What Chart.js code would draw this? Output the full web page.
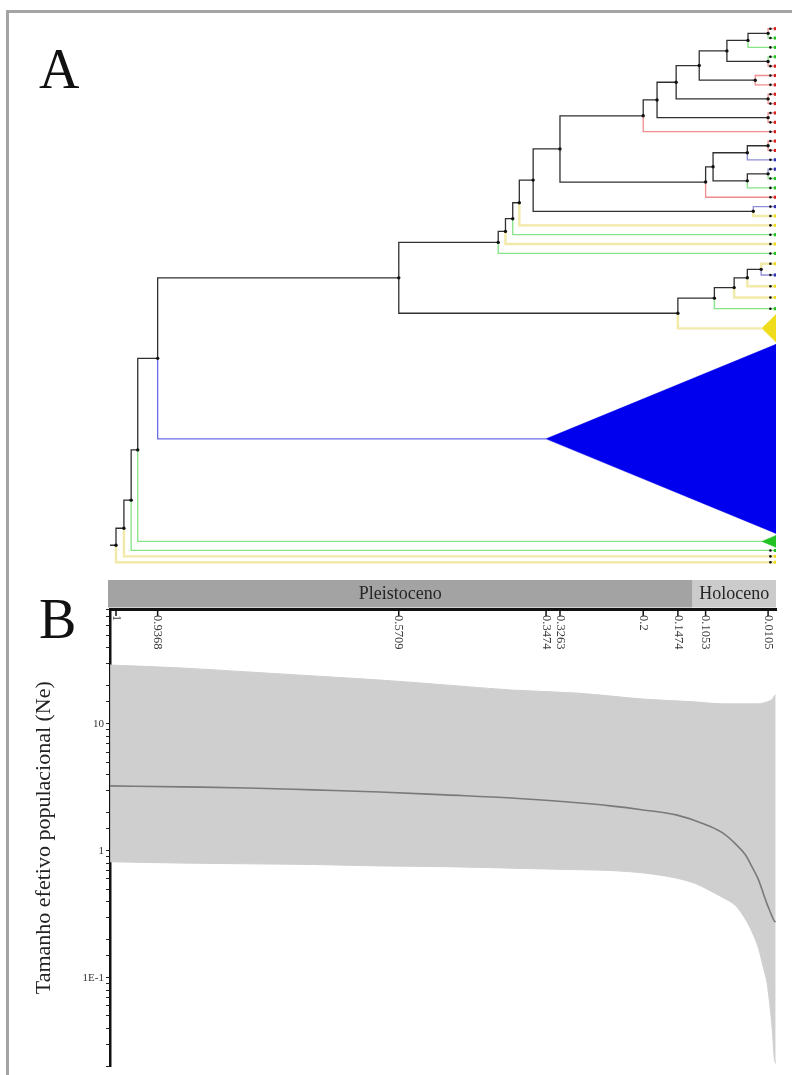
<!DOCTYPE html>
<html><head><meta charset="utf-8">
<script src="https://cdn.jsdelivr.net/npm/chart.js@4.4.1/dist/chart.umd.min.js"></script>
<style>
html,body{margin:0;padding:0;background:#fff;}
#page{position:relative;width:792px;height:1075px;overflow:hidden;background:#fff;}
#frame{position:absolute;left:6px;top:10px;right:-4px;bottom:-4px;border-top:3px solid #a4a4a4;border-left:3px solid #a4a4a4;}
.panel{position:absolute;font-family:'Liberation Serif','DejaVu Serif',serif;font-size:56px;line-height:1;color:#111;}
#cA{position:absolute;left:0;top:20px;width:792px;height:552px;}
#cB{position:absolute;left:8px;top:575px;width:784px;height:500px;}
</style></head><body>
<div id="page">
<div id="frame"></div>
<canvas id="cA" width="792" height="552"></canvas>
<canvas id="cB" width="784" height="500"></canvas>
<div class="panel" style="left:39px;top:41px">A</div>
<div class="panel" style="left:39px;top:591px">B</div>
</div>
<script>
// ---------------- Panel A : tree data ----------------
// node heights (time units) written after each closing bracket; tips are t0..t35 (top to bottom)
const subcladeRed    = "((((((t0,t1)0.0105,t2)0.041,(t3,t4)0.0105)0.073,(t5,t6)0.03)0.115,(t7,t8)0.0105)0.15,(t9,t10)0.0105)0.179";
const subcladeMixed  = "(((t12,t13)0.0105,t14)0.042,((t15,t16)0.0105,t17)0.042)0.094";
const subcladeYellow = "((((t25,t26)0.021,t27)0.042,t28)0.062,t29)0.092";
const treeNewick = "(((((((((((((" + subcladeRed + ",t11)0.2,(" + subcladeMixed + ",t18)0.1053)0.3263,(t19,t20)0.033)0.367,t21)0.388,t22)0.398,t23)0.409,t24)0.42,(" + subcladeYellow + ",t30)0.1474)0.5709,t31)0.9368,t32)0.967,t33)0.977,t34)0.988,t35)1.0";
const rootStubFrom = 1.0091;

// tip group (r red, g green, y yellow, p purple, b blue)
const tipGroup = ['r','g','g','g','r','r','r','r','r','r','r','r','r','r','p','p','g','g','r','p',
                  'y','y','g','y','g','y','p','y','y','g','y','b','g','g','y','y'];
// vertical room given to each tip (collapsed clades get more)
const tipSpan  = [1,1,1,1,1,1,1,1,1,1,1,1,1,1,1,1,1,1,1,1,1,1,1,1,1,
                  1.2,1.2,1.2,1.2,1.2, 3, 20.6, 1.3, 0.63,0.63,0.63];
// crown age of collapsed clades (0 = single tip)
const tipApex  = [0,0,0,0,0,0,0,0,0,0,0,0,0,0,0,0,0,0,0,0,0,0,0,0,0,
                  0,0,0,0,0, 0.02, 0.3474, 0.02, 0,0,0];

const branchColor = {r:'#ef8c8c', g:'#86e386', y:'#f2eaa8', p:'#8e8ed8', b:'#6c6ce6'};
const markColor   = {r:'#d61f1f', g:'#23c223', y:'#efdc1c', p:'#3232b0', b:'#0000ee'};
const INTERNAL = '#303030';

// ---------------- Panel B : skyline data ----------------
const skyTime   = [1.009, 0.9, 0.8, 0.7, 0.6, 0.5, 0.4, 0.3, 0.25, 0.2, 0.15, 0.12, 0.1, 0.08, 0.06, 0.045, 0.035, 0.025, 0.018, 0.012, 0.008, 0.004, 0.001, -0.001];
const skyUpper  = [29.1, 27.6, 25.7, 23.9, 22.2, 20.3, 18.5, 17.5, 16.6, 15.7, 15.2, 14.9, 14.6, 14.4, 14.4, 14.4, 14.4, 14.4, 14.6, 14.9, 15.2, 15.7, 16.6, 17.0];
const skyMedian = [3.25, 3.19, 3.13, 3.02, 2.91, 2.76, 2.61, 2.39, 2.26, 2.10, 1.92, 1.72, 1.57, 1.39, 1.135, 0.93, 0.75, 0.59, 0.466, 0.38, 0.337, 0.30, 0.28, 0.275];
const skyLower  = [0.82, 0.80, 0.79, 0.78, 0.76, 0.75, 0.73, 0.71, 0.70, 0.67, 0.61, 0.55, 0.49, 0.43, 0.37, 0.29, 0.23, 0.17, 0.122, 0.09, 0.062, 0.038, 0.023, 0.021];

const xTickValues = [1, 0.9368, 0.5709, 0.3474, 0.3263, 0.2, 0.1474, 0.1053, 0.0105];
const xTickLabels = ['1', '0.9368', '0.5709', '0.3474', '0.3263', '0.2', '0.1474', '0.1053', '0.0105'];
const yTickValues = [0.1, 1, 10];
const yTickLabels = ['1E-1', '1', '10'];
const epochNames = ['Pleistoceno', 'Holoceno'];
const epochFrom  = [1.0091, 0.125];
const epochTo    = [0.125, -0.0015];
const epochColor = ['#a3a3a3', '#cbcbcb'];

const X_MIN = -0.0015, X_MAX = 1.0091;
const SERIF = "'Liberation Serif','DejaVu Serif',serif";
Chart.defaults.font.family = SERIF;

// ---------- build tree geometry ----------
function parseNewick(s){
  let i = 0;
  function node(){
    if (s[i] === '('){
      i++;
      const kids = [node()];
      while (s[i] === ','){ i++; kids.push(node()); }
      i++;
      const j = i;
      while (i < s.length && /[0-9.]/.test(s[i])) i++;
      return {kids, h: parseFloat(s.slice(j, i))};
    }
    const j = i; i++;
    while (i < s.length && /[0-9]/.test(s[i])) i++;
    return {tip: parseInt(s.slice(j + 1, i), 10)};
  }
  return node();
}
const tree = parseNewick(treeNewick);
let acc = 0;
const tipY = tipSpan.map(s => { const c = acc + s / 2; acc += s; return c; });
const yTotal = acc;

function lay(n){
  if (n.tip !== undefined){
    n.y = tipY[n.tip]; n.h = tipApex[n.tip]; n.col = branchColor[tipGroup[n.tip]]; return;
  }
  n.kids.forEach(lay);
  n.y = (n.kids[0].y + n.kids[n.kids.length - 1].y) / 2;
  n.col = INTERNAL;
}
lay(tree);
const segByColor = {};
const nodePts = [];
function addSeg(col, pts){
  if (!segByColor[col]) segByColor[col] = [];
  segByColor[col].push(...pts, {x: pts[pts.length - 1].x, y: null});
}
function edges(n){
  if (n.tip !== undefined) return;
  nodePts.push({x: n.h, y: n.y});
  n.kids.forEach(k => {
    addSeg(k.col, [{x: n.h, y: n.y}, {x: n.h, y: k.y}, {x: k.h, y: k.y}]);
    edges(k);
  });
}
addSeg(INTERNAL, [{x: rootStubFrom, y: tree.y}, {x: tree.h, y: tree.y}]);
edges(tree);

const treeDatasets = [];
Object.keys(segByColor).forEach(col => {
  treeDatasets.push({
    type: 'line', data: segByColor[col], borderColor: col,
    borderWidth: col === branchColor.y ? 2.4 : (col === INTERNAL ? 1.3 : 1.3),
    pointRadius: 0, spanGaps: false, fill: false, tension: 0,
    order: col === INTERNAL ? 2 : 3
  });
});
tipApex.forEach((a, i) => {
  if (a <= 0) return;
  const half = tipSpan[i] * 0.49, c = markColor[tipGroup[i]];
  treeDatasets.push({
    type: 'line',
    data: [{x: a, y: tipY[i]}, {x: X_MIN, y: tipY[i] - half}, {x: X_MIN, y: tipY[i] + half}, {x: a, y: tipY[i]}],
    borderColor: c, backgroundColor: c, borderWidth: 0.5, pointRadius: 0, fill: 'shape', tension: 0, order: 1
  });
});
const tipIdx = tipApex.map((a, i) => i).filter(i => tipApex[i] === 0);
treeDatasets.push({
  type: 'scatter', data: tipIdx.map(i => ({x: -0.0006, y: tipY[i]})),
  pointStyle: 'rect', pointRadius: 2.2, pointBorderWidth: 0,
  pointBackgroundColor: tipIdx.map(i => markColor[tipGroup[i]]), order: 0
});
treeDatasets.push({
  type: 'scatter', data: tipIdx.map(i => ({x: 0.007, y: tipY[i]})),
  pointRadius: 1.3, pointBorderWidth: 0, pointBackgroundColor: '#111', order: 0
});
treeDatasets.push({
  type: 'scatter', data: nodePts, pointRadius: 1.7, pointBorderWidth: 0,
  pointBackgroundColor: '#111', order: 0
});

new Chart(document.getElementById('cA'), {
  type: 'line',
  data: {datasets: treeDatasets},
  options: {
    responsive: false, animation: false, devicePixelRatio: 1,
    layout: {padding: {left: 110, right: 16, top: 0, bottom: 0}},
    plugins: {legend: {display: false}, tooltip: {enabled: false}},
    scales: {
      x: {type: 'linear', reverse: true, min: X_MIN, max: X_MAX, display: false},
      y: {type: 'linear', reverse: true, min: 0, max: yTotal + 0.3, display: false}
    }
  }
});

// ---------- Panel B ----------
const epochPlugin = {
  id: 'epochs',
  afterDraw(chart){
    const {ctx, chartArea} = chart;
    const xs = chart.scales.x;
    const top = chartArea.top;
    ctx.save();
    epochNames.forEach((name, i) => {
      const x0 = xs.getPixelForValue(epochFrom[i]) - (i === 0 ? 2 : 0);
      const x1 = xs.getPixelForValue(epochTo[i]);
      ctx.fillStyle = epochColor[i];
      ctx.fillRect(x0, top - 29, x1 - x0, 27.5);
      ctx.fillStyle = '#262626';
      ctx.font = '18px ' + SERIF;
      ctx.textAlign = 'center';
      ctx.textBaseline = 'middle';
      ctx.fillText(name, (x0 + x1) / 2, top - 15);
    });
    ctx.strokeStyle = '#111';
    ctx.lineWidth = 1.5;
    ctx.fillStyle = '#3a3a3a';
    ctx.font = '12.5px ' + SERIF;
    xTickValues.forEach((v, i) => {
      const px = xs.getPixelForValue(v);
      ctx.beginPath();
      ctx.moveTo(px, top);
      ctx.lineTo(px, top + 7);
      ctx.stroke();
      ctx.save();
      ctx.translate(px, top + 6);
      ctx.rotate(Math.PI / 2);
      ctx.textAlign = 'left';
      ctx.textBaseline = 'middle';
      ctx.fillText(xTickLabels[i], 0, 0);
      ctx.restore();
    });
    ctx.restore();
  }
};

const pts = arr => skyTime.map((t, i) => ({x: t, y: arr[i]}));
new Chart(document.getElementById('cB'), {
  type: 'line',
  data: {datasets: [
    {data: pts(skyUpper), borderColor: '#cfcfcf', backgroundColor: '#cfcfcf', borderWidth: 1, fill: '+1', pointRadius: 0, cubicInterpolationMode: 'monotone', order: 2},
    {data: pts(skyLower), borderColor: '#cfcfcf', borderWidth: 1, fill: false, pointRadius: 0, cubicInterpolationMode: 'monotone', order: 2},
    {data: pts(skyMedian), borderColor: '#7a7a7a', borderWidth: 1.6, fill: false, pointRadius: 0, cubicInterpolationMode: 'monotone', order: 0}
  ]},
  options: {
    responsive: false, animation: false, devicePixelRatio: 1,
    layout: {padding: {left: 0, right: 16, top: 34, bottom: 8}},
    plugins: {legend: {display: false}, tooltip: {enabled: false}},
    scales: {
      x: {
        type: 'linear', position: 'top', reverse: true, min: X_MIN, max: X_MAX,
        ticks: {display: false},
        grid: {display: true, drawOnChartArea: false, drawTicks: false},
        border: {display: true, color: '#111', width: 3},
        afterFit(s){ s.height = 0; }
      },
      y: {
        type: 'logarithmic', position: 'left', min: 0.02, max: 80.5,
        border: {display: true, color: '#111', width: 2.5},
        grid: {drawOnChartArea: false, color: '#222', tickLength: 4, tickWidth: 1},
        ticks: {
          autoSkip: false, padding: 2, color: '#333', font: {family: SERIF, size: 11},
          callback(v){
            const k = yTickValues.findIndex(t => Math.abs(Math.log10(v) - Math.log10(t)) < 1e-6);
            return k >= 0 ? yTickLabels[k] : '';
          }
        },
        title: {display: true, text: 'Tamanho efetivo populacional (Ne)', color: '#222',
                font: {family: SERIF, size: 22}, padding: {top: 23, bottom: 0}},
        afterFit(s){ s.width = 102; }
      }
    }
  },
  plugins: [epochPlugin]
});
</script>
</body></html>
